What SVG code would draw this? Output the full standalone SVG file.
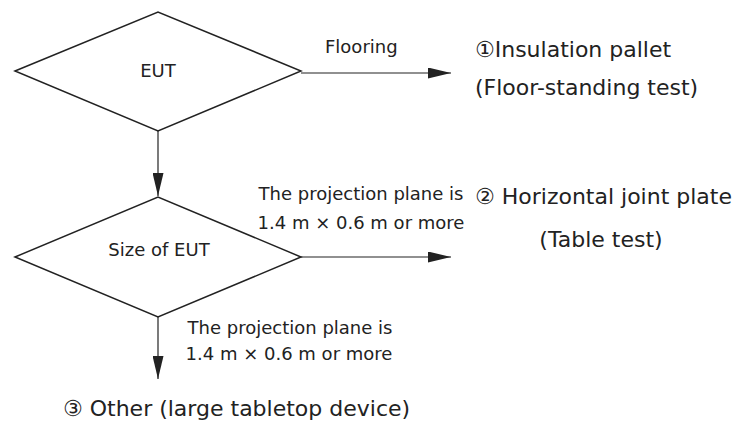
<svg xmlns="http://www.w3.org/2000/svg" width="739" height="426" viewBox="0 0 739 426">
<style>
text{font-family:"DejaVu Sans","Noto Sans CJK JP",sans-serif;fill:#222}
.d{fill:#fff;stroke:#222;stroke-width:1.5}
.c{stroke:#222;stroke-width:1.2;fill:none;marker-end:url(#ah)}
.s{font-size:18px}
.b{font-size:22px}
</style>
<defs>
<marker id="ah" markerWidth="23" markerHeight="11" refX="23" refY="5.5" orient="auto" markerUnits="userSpaceOnUse"><path d="M0,0L23,5.5L0,11z" fill="#222"/></marker>
</defs>
<g id="connectors">
<path class="c" d="M301,73H451"/>
<path class="c" d="M158,131V196"/>
<path class="c" d="M301,257H451"/>
<path class="c" d="M158,317V379"/>
</g>
<g id="n-eut">
<polygon class="d" points="15,71 158,12 301,71 158,131"/>
<text class="s" x="158" y="77" text-anchor="middle">EUT</text>
</g>
<g id="n-size">
<polygon class="d" points="15,257 158,197 301,257 158,317"/>
<text class="s" x="159" y="256" text-anchor="middle">Size of EUT</text>
</g>
<g id="labels">
<text class="s" x="325" y="53">Flooring</text>
<text class="s" x="361" y="200" text-anchor="middle">The projection plane is</text>
<text class="s" x="361" y="229" text-anchor="middle">1.4 m × 0.6 m or more</text>
<text class="s" x="290" y="334" text-anchor="middle">The projection plane is</text>
<text class="s" x="289" y="360" text-anchor="middle">1.4 m × 0.6 m or more</text>
</g>
<g id="n-1">
<text class="b" x="475" y="57">①Insulation pallet</text>
<text class="b" x="475" y="95">(Floor-standing test)</text>
</g>
<g id="n-2">
<text class="b" x="475" y="204">② Horizontal joint plate</text>
<text class="b" x="601" y="247" text-anchor="middle">(Table test)</text>
</g>
<g id="n-3">
<text class="b" x="63" y="416">③ Other (large tabletop device)</text>
</g>
</svg>
